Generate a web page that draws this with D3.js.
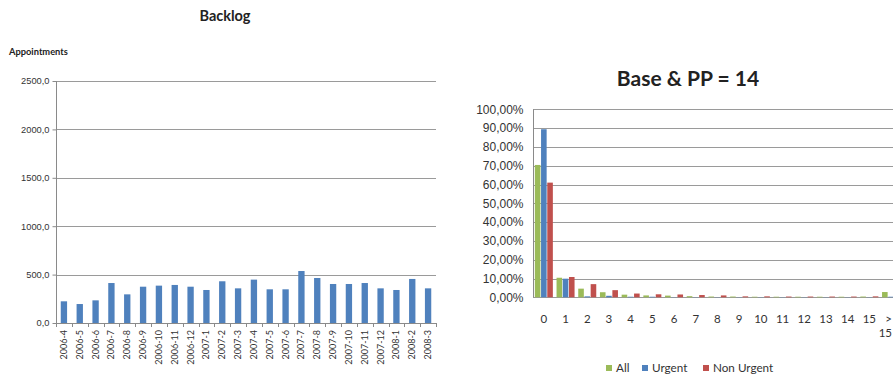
<!DOCTYPE html>
<html>
<head>
<meta charset="utf-8">
<script src="https://cdn.jsdelivr.net/npm/d3@7"></script>
<style>
  body { margin: 0; background: #fff; overflow: hidden; }
  svg { display: block; font-family: Lato, "Open Sans", sans-serif; }
  .grid line { stroke: #9a9a9a; stroke-width: 1; }
  .axis path, .axis line { stroke: #8a8a8a; }
</style>
</head>
<body>
<svg width="893" height="376"></svg>
<script>
// backlog chart
var months = ["2006-4","2006-5","2006-6","2006-7","2006-8","2006-9","2006-10","2006-11","2006-12",
    "2007-1","2007-2","2007-3","2007-4","2007-5","2007-6","2007-7","2007-8","2007-9","2007-10",
    "2007-11","2007-12","2008-1","2008-2","2008-3"];
var backlog = [224, 196, 234, 413, 296, 375, 386, 393, 375, 341, 431, 358, 448, 348, 348,
    537, 465, 403, 403, 413, 358, 341, 455, 358];
var backlogTicks = [0, 500, 1000, 1500, 2000, 2500];

// waiting days chart
var days = ["0","1","2","3","4","5","6","7","8","9","10","11","12","13","14","15",">15"];
var seriesNames = ["All", "Urgent", "Non Urgent"];
var allPct =       [70.4, 10.4, 4.6, 2.7, 1.4, 1.0, 0.9, 0.6, 0.4, 0.4, 0.3, 0.3, 0.3, 0.3, 0.3, 0.4, 2.8];
var urgentPct =    [89.4,  9.9, 0.5, 0.8, 0.3, 0.3, 0.1, 0.1, 0.1, 0.1, 0.1, 0.1, 0.1, 0.1, 0.1, 0.1, 0.3];
var nonUrgentPct = [61.0, 10.8, 7.0, 3.8, 2.0, 1.6, 1.5, 1.2, 1.0, 0.5, 0.5, 0.4, 0.4, 0.4, 0.4, 0.5, 3.0];
var pctTicks = [0, 10, 20, 30, 40, 50, 60, 70, 80, 90, 100];

var colors = ["#9bbb59", "#4f81bd", "#c0504d"];

var svg = d3.select("svg");

// ---------- left: Backlog ----------
var x = d3.scaleBand().domain(months).range([56, 436]).paddingInner(0.6).paddingOuter(0.3);
var y = d3.scaleLinear().domain([0, 2500]).range([323, 81]);

svg.append("text")
    .attr("x", 225).attr("y", 21)
    .attr("text-anchor", "middle")
    .style("font-size", "14.5px").style("font-weight", "bold").style("fill", "#222")
    .text("Backlog");

svg.append("text")
    .attr("x", 9).attr("y", 55)
    .style("font-size", "9.3px").style("font-weight", "bold").style("fill", "#222")
    .text("Appointments");

svg.append("g")
    .attr("class", "grid")
    .selectAll("line")
    .data(backlogTicks.slice(1))
    .enter().append("line")
    .attr("x1", 56).attr("x2", 436)
    .attr("y1", function(d) { return Math.round(y(d)) + 0.5; })
    .attr("y2", function(d) { return Math.round(y(d)) + 0.5; });

svg.selectAll(".bbar")
    .data(backlog)
    .enter().append("rect")
    .attr("class", "bbar")
    .attr("x", function(d, i) { return x(months[i]); })
    .attr("width", x.bandwidth())
    .attr("y", function(d) { return y(d); })
    .attr("height", function(d) { return y(0) - y(d); })
    .style("fill", "#4f81bd");

var yAxis = d3.axisLeft(y)
    .tickValues(backlogTicks)
    .tickSize(4)
    .tickFormat(function(d) { return d3.format(".1f")(d).replace(".", ","); });

svg.append("g")
    .attr("class", "axis")
    .attr("transform", "translate(56.5,0)")
    .call(yAxis)
    .call(function(g) {
        g.select(".domain").attr("d", "M0," + y(2500) + "V" + y(0));
        g.selectAll("text").attr("x", -7).style("font-size", "9.3px").style("fill", "#333");
    });

// x axis with ticks at band edges
var xa = svg.append("g").attr("class", "axis");
xa.append("line")
    .attr("x1", 56).attr("x2", 436)
    .attr("y1", 323.5).attr("y2", 323.5);
var edges = months.map(function(m) { return x(m) - x.bandwidth() * 0.75; });
edges.push(436);
xa.selectAll(".edge")
    .data(edges)
    .enter().append("line")
    .attr("x1", function(d) { return Math.round(d) + 0.5; })
    .attr("x2", function(d) { return Math.round(d) + 0.5; })
    .attr("y1", 323).attr("y2", 327);
xa.selectAll(".mlabel")
    .data(months)
    .enter().append("text")
    .attr("transform", function(d) {
        return "translate(" + (x(d) + x.bandwidth() / 2 + 3) + ",330) rotate(-90)";
    })
    .attr("text-anchor", "end")
    .style("font-size", "9px").style("fill", "#333")
    .text(function(d) { return d; });

// ---------- right: Base & PP = 14 ----------
var x0 = d3.scaleBand().domain(days).range([533, 533 + 17 * 21.7]).paddingInner(0.17).paddingOuter(0.085);
var x1 = d3.scaleBand().domain(seriesNames).range([0, x0.bandwidth()]).paddingInner(0.1);
var y2 = d3.scaleLinear().domain([0, 100]).range([297.3, 109.3]);

svg.append("text")
    .attr("x", 688).attr("y", 86)
    .attr("text-anchor", "middle")
    .style("font-size", "21px").style("font-weight", "bold").style("fill", "#222")
    .text("Base & PP = 14");

svg.append("g")
    .attr("class", "grid")
    .selectAll("line")
    .data(pctTicks)
    .enter().append("line")
    .attr("x1", 533).attr("x2", 893)
    .attr("y1", function(d) { return Math.round(y2(d)) + 0.5; })
    .attr("y2", function(d) { return Math.round(y2(d)) + 0.5; });

var series = [allPct, urgentPct, nonUrgentPct];
series.forEach(function(vals, s) {
    svg.append("g")
        .selectAll("rect")
        .data(vals)
        .enter().append("rect")
        .attr("x", function(d, i) { return x0(days[i]) + x1(seriesNames[s]); })
        .attr("width", x1.bandwidth())
        .attr("y", function(d) { return y2(d); })
        .attr("height", function(d) { return y2(0) - y2(d); })
        .style("fill", colors[s]);
});

var yAxis2 = d3.axisLeft(y2)
    .tickValues(pctTicks)
    .tickSize(0)
    .tickFormat(function(d) { return d3.format(".2f")(d).replace(".", ",") + "%"; });

svg.append("g")
    .attr("class", "axis")
    .attr("transform", "translate(533.5,0)")
    .call(yAxis2)
    .call(function(g) {
        g.select(".domain").attr("d", "M0," + y2(100) + "V" + y2(0));
        g.selectAll("text").attr("x", -10).style("font-size", "12px").style("fill", "#333");
    });

var dl = svg.append("g");
dl.selectAll("text")
    .data(days)
    .enter().append("text")
    .attr("x", function(d) { return x0(d) + x0.bandwidth() / 2; })
    .attr("y", 323)
    .attr("text-anchor", "middle")
    .style("font-size", "11.5px").style("fill", "#333")
    .each(function(d) {
        var t = d3.select(this);
        if (d === ">15") {
            t.attr("text-anchor", "end");
            t.append("tspan").attr("x", 892).text(">");
            t.append("tspan").attr("x", 892).attr("dy", 14).text("15");
        } else {
            t.text(d);
        }
    });

// legend
var legendX = [606, 642, 703];
var lg = svg.append("g");
seriesNames.forEach(function(n, i) {
    lg.append("rect")
        .attr("x", legendX[i]).attr("y", 365)
        .attr("width", 6).attr("height", 6)
        .style("fill", colors[i]);
    lg.append("text")
        .attr("x", legendX[i] + 10).attr("y", 371.5)
        .style("font-size", "11.7px").style("fill", "#333")
        .text(n);
});
</script>
</body>
</html>
